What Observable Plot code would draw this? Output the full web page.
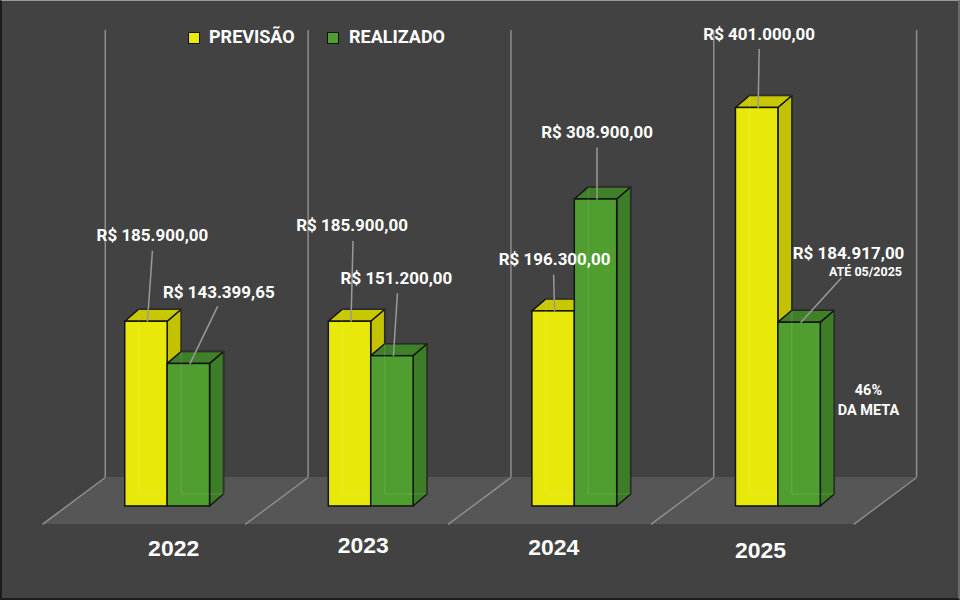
<!DOCTYPE html>
<html>
<head>
<meta charset="utf-8">
<script src="https://cdn.jsdelivr.net/npm/d3@7"></script>
<script src="https://cdn.jsdelivr.net/npm/@observablehq/plot@0.6"></script>
<style>
  body { margin: 0; background: #fff; }
  #wrap { position: relative; width: 960px; height: 600px; box-sizing: border-box;
          border: 2px solid #1c1c1c; border-top: 1px solid #9a9a9a; border-right: 2px solid #6a6a6a;
          background: #424242; overflow: hidden; font-family: Roboto, "Liberation Sans", sans-serif; }
  #chart { position: absolute; left: -2px; top: -1px; }
  .sw { position: absolute; width: 10px; height: 10px; border: 1.5px solid #111; }
  .lt { position: absolute; color: #fff; font-weight: 700; font-size: 18px; line-height: 18px; white-space: nowrap; }
</style>
</head>
<body>
<div id="wrap">
  <div id="chart"></div>
</div>
<script>
// ---------- data ----------
const years = ["2022", "2023", "2024", "2025"];
const seriesNames = ["PREVISÃO", "REALIZADO"];
const previsao = [185900, 185900, 196300, 401000];
const realizado = [143399.65, 151200, 308900, 184917];
const noteUntil = "ATÉ 05/2025";
const notePct = "46%";
const noteMeta = "DA META";

// ---------- styles ----------
const frontColors = ["#e8e80a", "#4f9e2f"];
const sideColors  = ["#c2c200", "#3e7d28"];
const topColors   = ["#c8c800", "#3f8029"];
const edge = "#141414";
const gridColor = "#8e8e8e";

// ---------- scale geometry (pixel ranges) ----------
const xDomain = [0, 4], xRange = [125, 941];
const yDomain = [0, 480000], yRange = [507, 29];
const kx = (xDomain[1] - xDomain[0]) / (xRange[1] - xRange[0]);   // data units per px
const ky = (yDomain[1] - yDomain[0]) / (yRange[0] - yRange[1]);   // data units per px (up)
const px2x = p => (p - xRange[0]) * kx;
const px2y = p => (yRange[0] - p) * ky;

const bw = 42.5 * kx;         // bar width
const dX = 14 * kx;           // depth offset x
const dY = 12 * ky;           // depth offset y

const bars = [];
years.forEach((year, i) => {
  bars.push({year, s: 0, x1: i, x2: i + bw, v: previsao[i]});
  bars.push({year, s: 1, x1: i + bw, x2: i + 2 * bw, v: realizado[i]});
});

// floor and wall geometry
const yFront = px2y(525), yBack = px2y(478), yTop = px2y(30);
const xF0 = px2x(42), xF1 = px2x(855), xB0 = px2x(105), xB1 = px2x(918);
const bounds = d3.range(5).map(k => ({
  back: xB0 + k * (xB1 - xB0) / 4,
  front: xF0 + k * (xF1 - xF0) / 4
}));

const brl = d3.formatLocale({decimal: ",", thousands: ".", grouping: [3], currency: ["R$ ", ""]}).format("$,.2f");

// label layout (px offsets relative to the front-top centre of each bar)
const labelShift = [[[6, -86], [2, -96], [1, -52], [2, -74]],
                    [[30, -72], [4, -78], [1, -67], [49, -69]]];
const leaderEnd  = [[[6, -71], [3, -81], [0, -37], [2, -59]],
                    [[29, -58], [5, -63], [1, -52], [42, -45]]];
const yearShift = [[6, 42], [-8, 39], [-21, 41], [-18, 44]];

const marks = [];

// floor
marks.push(Plot.areaX([{y: yFront, x1: xF0, x2: xF1}, {y: yBack, x1: xB0, x2: xB1}],
  {y: "y", x1: "x1", x2: "x2", fill: "#565656"}));
// back wall verticals and floor diagonals
marks.push(Plot.ruleX(bounds, {x: "back", y1: yBack, y2: yTop, stroke: gridColor, strokeWidth: 1.5}));
marks.push(Plot.link(bounds, {x1: "back", y1: yBack, x2: "front", y2: yFront, stroke: gridColor, strokeWidth: 1.5}));

// bars (3D)
[0, 1].forEach(s => {
  const b = bars.filter(d => d.s === s);
  const side = b.flatMap(d => [{id: d.year, x: d.x2, y1: 0, y2: d.v}, {id: d.year, x: d.x2 + dX, y1: dY, y2: d.v + dY}]);
  const top = b.flatMap(d => [{id: d.year, y: d.v, x1: d.x1, x2: d.x2}, {id: d.year, y: d.v + dY, x1: d.x1 + dX, x2: d.x2 + dX}]);
  marks.push(Plot.areaY(side, {x: "x", y1: "y1", y2: "y2", z: "id", fill: sideColors[s], stroke: edge, strokeWidth: 1.5, strokeLinejoin: "round"}));
  marks.push(Plot.areaX(top, {y: "y", x1: "x1", x2: "x2", z: "id", fill: topColors[s], stroke: edge, strokeWidth: 1.5, strokeLinejoin: "round"}));
  marks.push(Plot.rect(b, {x1: "x1", x2: "x2", y1: 0, y2: "v", fill: frontColors[s], stroke: edge, strokeWidth: 1.5}));
  // faint hidden back edges seen through the front
  marks.push(Plot.rect(b, {x1: d => d.x1 + dX, x2: d => d.x2 + dX, y1: dY, y2: d => d.v + dY, fill: "none", stroke: "#ffffff", strokeOpacity: 0.13, strokeWidth: 1}));
});

// leader lines and value labels
bars.forEach(d => {
  const i = years.indexOf(d.year);
  const cx = (d.x1 + d.x2) / 2;
  const [lx, ly] = leaderEnd[d.s][i];
  const [tx, ty] = labelShift[d.s][i];
  marks.push(Plot.link([d], {x1: () => cx + 1 * kx, y1: "v", x2: () => cx + lx * kx, y2: e => e.v - ly * ky,
    stroke: "#9a9a9a", strokeWidth: 1.5}));
  marks.push(Plot.text([d], {x: () => cx, y: "v", text: e => brl(e.v), dx: tx, dy: ty,
    fill: "#fff", fontWeight: 700, fontSize: 17}));
});

// notes on the 2025 realised bar
const last = bars.find(d => d.s === 1 && d.year === "2025");
const lastCx = (last.x1 + last.x2) / 2;
marks.push(Plot.text([last], {x: () => lastCx, y: "v", text: () => noteUntil, dx: 66, dy: -51, fill: "#fff", fontWeight: 700, fontSize: 12.5}));
marks.push(Plot.text([last], {x: () => lastCx, y: "v", text: () => notePct, dx: 69, dy: 68, fill: "#fff", fontWeight: 700, fontSize: 14.5}));
marks.push(Plot.text([last], {x: () => lastCx, y: "v", text: () => noteMeta, dx: 69, dy: 88, fill: "#fff", fontWeight: 700, fontSize: 14.5}));

// year labels
years.forEach((yr, i) => {
  marks.push(Plot.text([yr], {x: () => i + bw, y: 0, text: d => d, dx: yearShift[i][0], dy: yearShift[i][1],
    fill: "#fff", fontWeight: 700, fontSize: 23, fontFamily: "Liberation Sans, Arial, sans-serif"}));
});

const chart = Plot.plot({
  width: 960,
  height: 600,
  margin: 0,
  x: {type: "linear", domain: xDomain, range: xRange, axis: null},
  y: {type: "linear", domain: yDomain, range: yRange, axis: null},
  style: {background: "transparent", fontFamily: "Roboto, sans-serif", overflow: "visible"},
  marks
});
document.getElementById("chart").appendChild(chart);

// legend (inside the chart area, top-left)
const wrap = document.getElementById("wrap");
const legendPos = [[188, 209], [327, 349]];
seriesNames.forEach((name, s) => {
  const sw = document.createElement("div");
  sw.className = "sw";
  sw.style.left = (legendPos[s][0] - 2) + "px";
  sw.style.top = "31px";
  sw.style.background = frontColors[s];
  wrap.appendChild(sw);
  const t = document.createElement("div");
  t.className = "lt";
  t.style.left = (legendPos[s][1] - 2) + "px";
  t.style.top = "27px";
  t.textContent = name;
  wrap.appendChild(t);
});
</script>
</body>
</html>
